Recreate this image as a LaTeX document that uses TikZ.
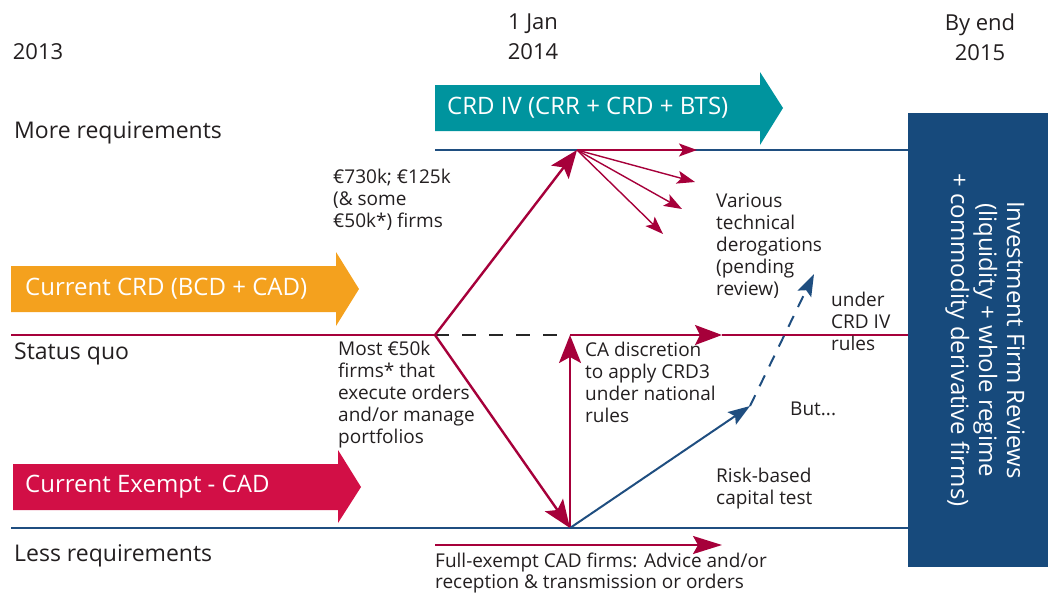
\documentclass[tikz,border=0pt]{standalone}
\usepackage{fontspec}
\setmainfont{Open Sans}
\usetikzlibrary{arrows.meta}
\definecolor{txt}{HTML}{231F20}
\definecolor{tealc}{HTML}{00949E}
\definecolor{orangec}{HTML}{F4A11E}
\definecolor{exred}{HTML}{D20F46}
\definecolor{darkred}{HTML}{A6003A}
\definecolor{lineblue}{HTML}{1F4E80}
\definecolor{boxblue}{HTML}{174A7C}
\tikzset{
  yearlbl/.style={font=\fontsize{22}{30}\selectfont, text=txt, align=center, inner sep=0pt},
  rowlbl/.style={font=\fontsize{23}{26}\selectfont, text=txt, anchor=west, inner sep=0pt},
  note/.style={font=\fontsize{19}{22}\selectfont, text=txt, align=left, anchor=north west, inner sep=0pt},
  arrowlbl/.style={font=\fontsize{24}{28}\selectfont, text=white, anchor=west, inner sep=0pt},
  bigred/.style={draw=darkred, line width=2.4pt, -{Stealth[length=28pt,width=22pt,inset=6pt]}},
  thinred/.style={draw=darkred, line width=1.4pt, -{Stealth[length=18pt,width=13pt,inset=4pt]}},
  midred/.style={draw=darkred, line width=1.8pt, -{Stealth[length=27pt,width=20pt,inset=5pt]}},
  bluearr/.style={draw=lineblue, line width=2pt, -{Stealth[length=22pt,width=15pt,inset=4pt]}},
  levelline/.style={draw=lineblue, line width=2pt},
}
\begin{document}
\begin{tikzpicture}[x=1pt,y=-1pt]
\useasboundingbox (0,0) rectangle (1048,594);

% year labels
\node[yearlbl] (y2013) at (38,52) {2013};
\node[yearlbl] (y2014) at (533,37) {1 Jan\\2014};
\node[yearlbl] (y2015) at (980,37) {By end\\2015};

% block arrows
\fill[tealc] (435,85) -- (760,85) -- (760,72) -- (783,108) -- (760,145) -- (760,131) -- (435,131) -- cycle;
\node[arrowlbl] (crdiv) at (447,108) {CRD IV (CRR + CRD + BTS)};
\fill[orangec] (11,266) -- (336,266) -- (336,252) -- (359,289) -- (336,326) -- (336,312) -- (11,312) -- cycle;
\node[arrowlbl] (crd) at (25,289) {Current CRD (BCD + CAD)};
\fill[exred] (13,464) -- (338,464) -- (338,450) -- (361,487) -- (338,523) -- (338,510) -- (13,510) -- cycle;
\node[arrowlbl] (exempt) at (25,487) {Current Exempt - CAD};

% box
\fill[boxblue] (908,113) rectangle (1048,567);
\node[font=\fontsize{24}{28}\selectfont, text=white, align=center, rotate=-90, inner sep=0pt] (ifr) at (985,340)
  {Investment Firm Reviews\\(liquidity + whole regime\\+ commodity derivative firms)};

% coordinates
\coordinate (mrL) at (435,150);
\coordinate (top) at (577,150);
\coordinate (mrR) at (908,150);
\coordinate (sqL) at (11,335);
\coordinate (split) at (435,335);
\coordinate (sqM) at (570,335);
\coordinate (sqA) at (722,335);
\coordinate (sqR) at (908,335);
\coordinate (lrL) at (11,528);
\coordinate (bot) at (570,528);
\coordinate (lrR) at (908,528);
\coordinate (t1) at (697,150);
\coordinate (t2) at (695,182);
\coordinate (t3) at (682,209);
\coordinate (t4) at (663,234);
\coordinate (bmid) at (750,406);
\coordinate (btip) at (814,274);
\coordinate (feL) at (435,545);
\coordinate (feR) at (722,545);

% level lines
\draw[levelline] (mrL) -- (mrR);
\draw[levelline] (lrL) -- (lrR);
\draw[draw=darkred, line width=2pt] (sqL) -- (split);
\draw[black!85, line width=2.2pt, dash pattern=on 14pt off 13pt] (split) -- (sqM);
\draw[midred] (sqM) -- (sqA);
\draw[draw=darkred, line width=2.6pt] (sqA) -- (sqR);

% red arrows
\draw[bigred] (split) -- (top);
\draw[bigred] (split) -- (bot);
\draw[bigred] (bot) -- (sqM);
\draw[thinred] (top) -- (t1);
\draw[thinred] (top) -- (t2);
\draw[thinred] (top) -- (t3);
\draw[thinred] (top) -- (t4);
\draw[midred, -{Stealth[length=29pt,width=18pt,inset=5pt]}] (feL) -- (feR);

% blue arrows
\draw[bluearr] (bot) -- (bmid);
\draw[bluearr, dash pattern=on 12pt off 10pt] (bmid) -- (btip);

% row labels
\node[rowlbl] (more) at (14,133) {More requirements};
\node[rowlbl] (sq) at (14,354) {Status quo};
\node[rowlbl] (less) at (14,556) {Less requirements};

% notes
\node[note] (n730) at (333,169) {€730k; €125k\\(\& some\\€50k*) firms};
\node[note] (n50) at (338,341) {Most €50k\\firms* that\\execute orders\\and/or manage\\portfolios};
\node[note] (nca) at (585,342) {CA discretion\\to apply CRD3\\under national\\rules};
\node[note] (nvar) at (716,193) {Various\\technical\\derogations\\(pending\\review)};
\node[note] (nund) at (831,292) {under\\CRD IV\\rules};
\node[note] (nbut) at (790,402) {But...};
\node[note] (nrisk) at (716,468) {Risk-based\\capital test};
\node[note, font=\fontsize{19}{21}\selectfont] (nfe) at (435,553) {Full-exempt CAD firms: Advice and/or\\reception \& transmission or orders};
\end{tikzpicture}
\end{document}
